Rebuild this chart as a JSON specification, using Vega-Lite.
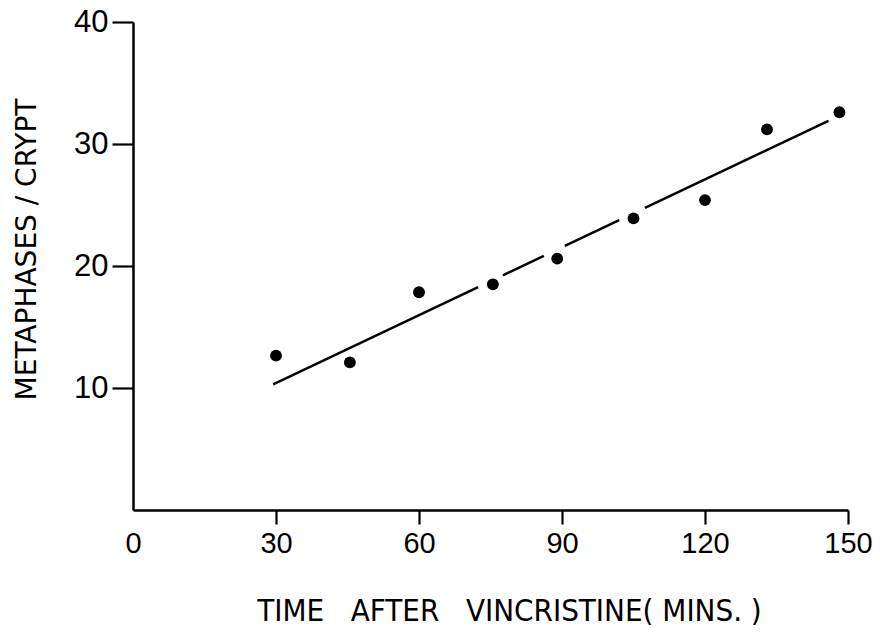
{
  "$schema": "https://vega.github.io/schema/vega-lite/v6.json",
  "autosize": "none",
  "width": 715,
  "height": 488,
  "padding": {"left": 133, "top": 22, "right": 32, "bottom": 123},
  "background": "white",
  "config": {
    "view": {"stroke": null},
    "axis": {
      "grid": false,
      "domainColor": "black",
      "domainWidth": 2.5,
      "tickColor": "black",
      "tickWidth": 2.2,
      "labelColor": "black",
      "titleColor": "black",
      "labelFont": "Liberation Sans",
      "titleFontWeight": "normal"
    }
  },
  "datasets": {
    "points": [
      {"time": 30, "metaphases": 12.65},
      {"time": 45.5, "metaphases": 12.1},
      {"time": 60, "metaphases": 17.85},
      {"time": 75.5, "metaphases": 18.5},
      {"time": 89, "metaphases": 20.6},
      {"time": 105, "metaphases": 23.9},
      {"time": 120, "metaphases": 25.4},
      {"time": 133, "metaphases": 31.2},
      {"time": 148.2, "metaphases": 32.6}
    ],
    "fit": [
      {"time": 29.4, "metaphases": 10.3, "seg": "a"},
      {"time": 72.4, "metaphases": 18.27, "seg": "a"},
      {"time": 77.6, "metaphases": 19.24, "seg": "b"},
      {"time": 86.2, "metaphases": 20.83, "seg": "b"},
      {"time": 90.6, "metaphases": 21.65, "seg": "c"},
      {"time": 102, "metaphases": 23.76, "seg": "c"},
      {"time": 107.4, "metaphases": 24.76, "seg": "d"},
      {"time": 145.9, "metaphases": 31.9, "seg": "d"}
    ]
  },
  "encoding": {
    "x": {
      "field": "time",
      "type": "quantitative",
      "scale": {"domain": [0, 150], "nice": false, "zero": false},
      "axis": {
        "values": [0, 30, 60, 90, 120, 150],
        "tickSize": 14,
        "labelPadding": 5,
        "labelFontSize": 29,
        "tickOpacity": {"condition": {"test": "datum.value === 0", "value": 0}, "value": 1},
        "labelAlign": "center",
        "title": "TIME\u00a0\u00a0\u00a0AFTER\u00a0\u00a0\u00a0VINCRISTINE(\u00a0MINS.\u00a0)",
        "titleFont": "DejaVu Sans Condensed",
        "titleFontSize": 31,
        "titleX": 376,
        "titleY": 101,
        "titleBaseline": "middle",
        "titleAlign": "center"
      }
    },
    "y": {
      "field": "metaphases",
      "type": "quantitative",
      "scale": {"domain": [0, 40], "nice": false},
      "axis": {
        "values": [10, 20, 30, 40],
        "tickSize": 21,
        "labelPadding": 4,
        "labelFontSize": 31,
        "title": "METAPHASES / CRYPT",
        "titleFont": "DejaVu Sans",
        "titleFontSize": 28,
        "titleX": -106,
        "titleY": 227,
        "titleBaseline": "middle",
        "titleAlign": "center",
        "titleAngle": -90
      }
    }
  },
  "layer": [
    {
      "data": {"name": "fit"},
      "mark": {"type": "line", "color": "black", "strokeWidth": 2.5},
      "encoding": {"detail": {"field": "seg", "type": "nominal"}}
    },
    {
      "data": {"name": "points"},
      "mark": {"type": "point", "filled": true, "color": "black", "opacity": 1, "size": 140}
    }
  ]
}
